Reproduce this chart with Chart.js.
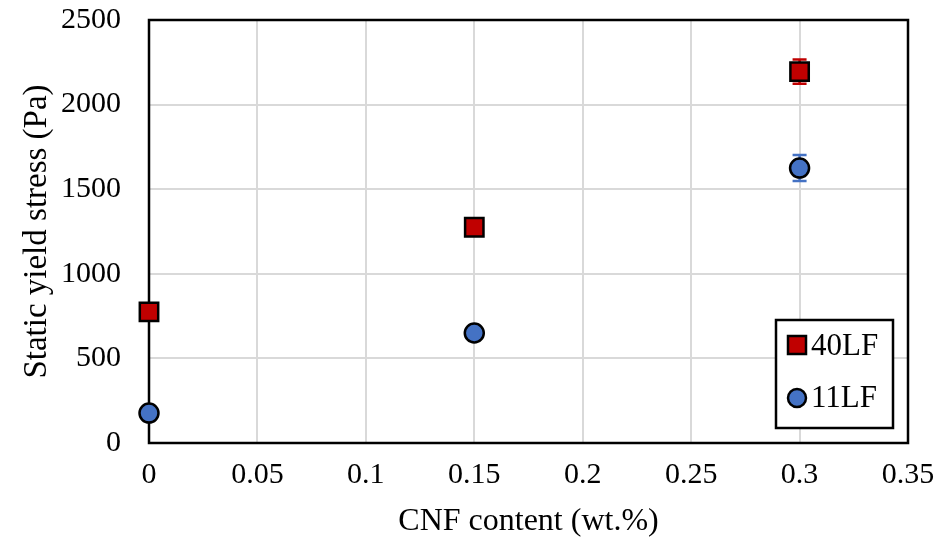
<!DOCTYPE html>
<html lang="en">
<head>
    <meta charset="UTF-8">
    <script src="https://cdn.jsdelivr.net/npm/chart.js@4"></script>
    <title>Static yield stress</title>
    <style>
        body { margin: 0; background: #fff; }
        #box { width: 941px; height: 545px; }
    </style>
</head>
<body>
    <div id="box"><canvas id="grafico"></canvas></div>
<script>
    // dati
    var cnf = [0, 0.15, 0.3];
    var stress40LF = [775, 1275, 2195];
    var err40LF = [20, 25, 72];
    var stress11LF = [177, 650, 1625];
    var err11LF = [15, 20, 77];
    var xTicks = [0, 0.05, 0.1, 0.15, 0.2, 0.25, 0.3, 0.35];

    var FONT = "'Liberation Serif', 'Times New Roman', serif";

    function punti(xs, ys, es) {
        return xs.map(function(x, i) { return { x: x, y: ys[i], e: es[i] }; });
    }

    // barre di errore disegnate dietro i marker
    var errorBars = {
        id: 'errorBars',
        beforeDatasetsDraw: function(chart) {
            var ctx = chart.ctx, xs = chart.scales.x, ys = chart.scales.y;
            chart.data.datasets.forEach(function(ds) {
                ctx.save();
                ctx.strokeStyle = ds.backgroundColor;
                ctx.lineWidth = 2.5;
                ds.data.forEach(function(p) {
                    var px = xs.getPixelForValue(p.x);
                    var top = ys.getPixelForValue(p.y + p.e);
                    var bot = ys.getPixelForValue(p.y - p.e);
                    ctx.beginPath();
                    ctx.moveTo(px, top); ctx.lineTo(px, bot);
                    ctx.moveTo(px - 7, top); ctx.lineTo(px + 7, top);
                    ctx.moveTo(px - 7, bot); ctx.lineTo(px + 7, bot);
                    ctx.stroke();
                });
                ctx.restore();
            });
        }
    };

    // cornice dell'area del grafico
    var cornice = {
        id: 'cornice',
        beforeDatasetsDraw: function(chart) {
            var a = chart.chartArea, ctx = chart.ctx;
            ctx.save();
            ctx.strokeStyle = '#000';
            ctx.lineWidth = 2.5;
            ctx.strokeRect(a.left, a.top, a.right - a.left, a.bottom - a.top);
            ctx.restore();
        }
    };

    // legenda con bordo dentro l'area del grafico
    var legenda = {
        id: 'legenda',
        afterDraw: function(chart) {
            var ctx = chart.ctx;
            var x = 776, y = 320, w = 117, h = 108;
            ctx.save();
            ctx.fillStyle = '#fff';
            ctx.fillRect(x, y, w, h);
            ctx.strokeStyle = '#000';
            ctx.lineWidth = 2.5;
            ctx.strokeRect(x, y, w, h);
            ctx.font = '31px ' + FONT;
            ctx.textBaseline = 'middle';
            // 40LF
            ctx.fillStyle = '#C00000';
            ctx.fillRect(788, 336, 18, 18);
            ctx.strokeRect(788, 336, 18, 18);
            ctx.fillStyle = '#000';
            ctx.fillText(chart.data.datasets[0].label, 811, 347);
            // 11LF
            ctx.beginPath();
            ctx.arc(797, 398, 9, 0, Math.PI * 2);
            ctx.fillStyle = '#4472C4';
            ctx.fill();
            ctx.stroke();
            ctx.fillStyle = '#000';
            ctx.fillText(chart.data.datasets[1].label, 811, 399);
            ctx.restore();
        }
    };

    var data = {
        datasets: [
            {
                label: '40LF',
                data: punti(cnf, stress40LF, err40LF),
                pointStyle: 'rect',
                pointRadius: 13,
                backgroundColor: '#C00000',
                borderColor: '#000',
                borderWidth: 2.5,
                clip: false
            },
            {
                label: '11LF',
                data: punti(cnf, stress11LF, err11LF),
                pointStyle: 'circle',
                pointRadius: 9.5,
                backgroundColor: '#4472C4',
                borderColor: '#000',
                borderWidth: 2.5,
                clip: false
            }
        ]
    };

    var options = {
        responsive: true,
        maintainAspectRatio: false,
        animation: false,
        layout: { padding: { top: 20, right: 33, left: 0, bottom: 0 } },
        plugins: {
            legend: { display: false },
            tooltip: { enabled: false }
        },
        scales: {
            x: {
                type: 'linear',
                min: 0, max: 0.35,
                afterBuildTicks: function(s) { s.ticks = xTicks.map(function(v) { return { value: v }; }); },
                afterFit: function(s) { s.height = 102; s.paddingLeft = 0; s.paddingRight = 0; },
                grid: { color: '#d9d9d9', lineWidth: 2, drawTicks: false },
                border: { display: false },
                ticks: {
                    padding: 14,
                    color: '#000',
                    font: { family: FONT, size: 30 },
                    callback: function(v) { return String(+v.toFixed(2)); }
                },
                title: {
                    display: true,
                    text: 'CNF content (wt.%)',
                    color: '#000',
                    font: { family: FONT, size: 32 },
                    padding: { top: 7 }
                }
            },
            y: {
                min: 0, max: 2500,
                afterFit: function(s) { s.width = 149; s.paddingTop = 0; s.paddingBottom = 0; },
                grid: { color: '#d9d9d9', lineWidth: 2, drawTicks: false },
                border: { display: false },
                ticks: {
                    stepSize: 500,
                    padding: 28,
                    color: '#000',
                    font: { family: FONT, size: 30 },
                    callback: function(v) { return String(v); }
                },
                title: {
                    display: true,
                    text: 'Static yield stress (Pa)',
                    color: '#000',
                    font: { family: FONT, size: 33 },
                    padding: { top: 18, bottom: 0 }
                }
            }
        }
    };

    new Chart('grafico', {
        type: 'scatter',
        data: data,
        options: options,
        plugins: [cornice, errorBars, legenda]
    });
</script>
</body>
</html>
